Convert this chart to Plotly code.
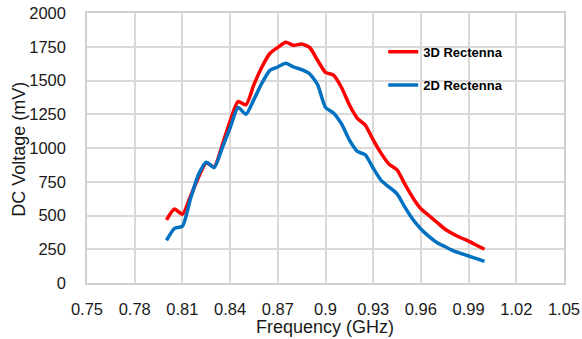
import plotly.graph_objects as go

freq = [0.800, 0.805, 0.810, 0.815, 0.820, 0.825, 0.830, 0.835, 0.840, 0.845,
        0.850, 0.855, 0.860, 0.865, 0.870, 0.875, 0.880, 0.885, 0.890, 0.895,
        0.900, 0.905, 0.910, 0.915, 0.920, 0.925, 0.930, 0.935, 0.940, 0.945,
        0.950, 0.955, 0.960, 0.965, 0.970, 0.975, 0.980, 0.985, 0.990, 0.995, 1.000]
v3d = [468, 548, 510, 640, 780, 890, 860, 1020, 1200, 1344,
       1320, 1470, 1600, 1700, 1745, 1783, 1760, 1771, 1745, 1650,
       1560, 1540, 1450, 1320, 1220, 1170, 1060, 960, 880, 838,
       730, 630, 550, 500, 450, 400, 365, 335, 310, 280, 250]
v2d = [315, 405, 420, 620, 800, 895, 855, 1000, 1150, 1300,
       1250, 1360, 1480, 1575, 1600, 1628, 1600, 1580, 1550, 1470,
       1300, 1260, 1180, 1060, 975, 950, 850, 760, 710, 660,
       560, 470, 400, 345, 300, 270, 240, 220, 200, 180, 160]
names = ["3D Rectenna", "2D Rectenna"]
colors = ["#ff0000", "#0070c0"]
xticks = [0.75, 0.78, 0.81, 0.84, 0.87, 0.9, 0.93, 0.96, 0.99, 1.02, 1.05]
xticklabels = ["0.75", "0.78", "0.81", "0.84", "0.87", "0.9", "0.93", "0.96", "0.99", "1.02", "1.05"]
yticks = [0, 250, 500, 750, 1000, 1250, 1500, 1750, 2000]
x_title = "Frequency (GHz)"
y_title = "DC Voltage (mV)"

FONT = "Liberation Sans"
TXT = "#1a1a1a"
fig = go.Figure()
legend_ids = ["legend", "legend2"]
for name, vals, c, lg in zip(names, [v3d, v2d], colors, legend_ids):
    fig.add_trace(go.Scatter(x=freq, y=vals, mode="lines", name=name, legend=lg,
                             line=dict(color=c, width=3.5, shape="spline", smoothing=0.6)))

leg_common = dict(x=0.621, xanchor="left", yanchor="middle", bgcolor="rgba(0,0,0,0)",
                  font=dict(family=FONT, size=13, color="#000000", weight="bold"))

fig.update_layout(
    width=582, height=339,
    margin=dict(l=87, r=18, t=13, b=56),
    paper_bgcolor="white", plot_bgcolor="white",
    font=dict(family=FONT, size=16.5, color=TXT),
    showlegend=True,
    legend=dict(y=0.856, **leg_common),
    legend2=dict(y=0.733, **leg_common),
    xaxis=dict(range=[0.75, 1.05], tickvals=xticks, ticktext=xticklabels,
               showgrid=True, gridcolor="#d9d9d9", gridwidth=1.5,
               showline=True, linecolor="#d0d0d0", linewidth=1.5, mirror=True,
               zeroline=False, ticks="", ticklabelstandoff=10, automargin=False),
    yaxis=dict(range=[0, 2000], tickvals=yticks,
               showgrid=True, gridcolor="#d9d9d9", gridwidth=1.5,
               showline=True, linecolor="#d0d0d0", linewidth=1.5, mirror=True,
               zeroline=False, ticks="", ticklabelstandoff=16, automargin=False),
    annotations=[
        dict(text=x_title, xref="paper", yref="paper", x=0.499, y=-0.162,
             xanchor="center", yanchor="middle", showarrow=False,
             font=dict(family=FONT, size=18, color=TXT)),
        dict(text=y_title, xref="paper", yref="paper", x=-0.143, y=0.496,
             xanchor="center", yanchor="middle", showarrow=False, textangle=-90,
             font=dict(family=FONT, size=18, color=TXT)),
    ],
)
fig.write_html("out.html")
